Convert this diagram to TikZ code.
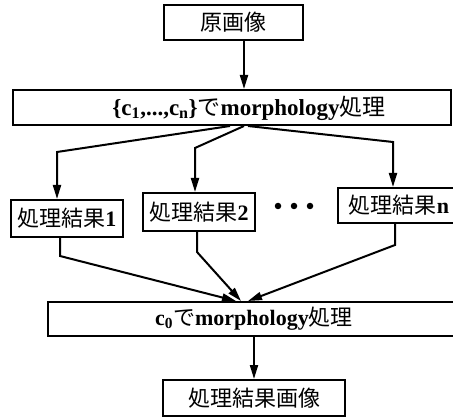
\documentclass[tikz,border=0pt]{standalone}
\usepackage{fontspec}
\setmainfont{Liberation Serif}
\newfontfamily\cjk{Noto Sans CJK JP}
\newcommand\jp[1]{{\cjk\mdseries #1}}
\usetikzlibrary{arrows.meta}
\tikzset{
  box/.style={draw=black, line width=2pt, fill=white, inner sep=0pt, font=\fontsize{22}{26}\selectfont\bfseries},
  lbl/.style={inner sep=0pt, font=\fontsize{23}{27}\selectfont\bfseries},
  conn/.style={line width=2pt, draw=black},
  arr/.style={conn, -{Triangle[length=14pt,width=8pt]}},
  dot/.style={circle, fill=black, inner sep=0pt, minimum size=6.5pt}
}
\begin{document}
\begin{tikzpicture}[x=1pt,y=-1pt]
\clip (0,0) rectangle (453,417);
\fill[white] (0,0) rectangle (453,417);
% boxes
\node[box, minimum width=139pt, minimum height=35pt] (orig) at (233.5,22.5) {\jp{原画像}};
\node[box, minimum width=438pt, minimum height=35pt] (m1) at (232,107.5) {};
\node[lbl] (m1t) at (249,108) {\{c\textsubscript{1},...,c\textsubscript{n}\}\jp{で}morphology\jp{処理}};
\node[box, minimum width=112pt, minimum height=37pt] (r1) at (67,218.5) {\jp{処理結果}1};
\node[box, minimum width=112pt, minimum height=38pt] (r2) at (199,212) {\jp{処理結果}2};
\node[box, minimum width=122pt, minimum height=35pt] (rn) at (399,205.5) {\jp{処理結果}n};
\node[dot] (d1) at (278,206) {};
\node[dot] (d2) at (294,206) {};
\node[dot] (d3) at (310,206) {};
\node[box, minimum width=412pt, minimum height=34pt] (c0) at (254,319) {c\textsubscript{0}\jp{で}morphology\jp{処理}};
\node[box, minimum width=182pt, minimum height=36pt] (fin) at (254,398) {\jp{処理結果画像}};
% bends
\coordinate (b1) at (57,152);
\coordinate (b2) at (195,148);
\coordinate (b3) at (393,142);
\coordinate (e1) at (60,256);
\coordinate (e2) at (197,252);
\coordinate (e3) at (395,245);
% connectors
\draw[arr] ([xshift=10.5pt]orig.south) -- ([xshift=10.5pt]orig.south |- m1.north);
\draw[arr] ([xshift=-2pt]m1.south) -- (b1) -- (b1 |- r1.north);
\draw[arr] ([xshift=12pt]m1.south) -- (b2) -- (b2 |- r2.north);
\draw[arr] ([xshift=16pt]m1.south) -- (b3) -- (b3 |- rn.north);
\draw[arr] (e1 |- r1.south) -- (e1) -- ([xshift=-18pt]c0.north);
\draw[arr] (e2 |- r2.south) -- (e2) -- ([xshift=-13pt]c0.north);
\draw[arr] (e3 |- rn.south) -- (e3) -- ([xshift=-6pt]c0.north);
\draw[arr] (fin.north |- c0.south) -- (fin.north);
\end{tikzpicture}
\end{document}
